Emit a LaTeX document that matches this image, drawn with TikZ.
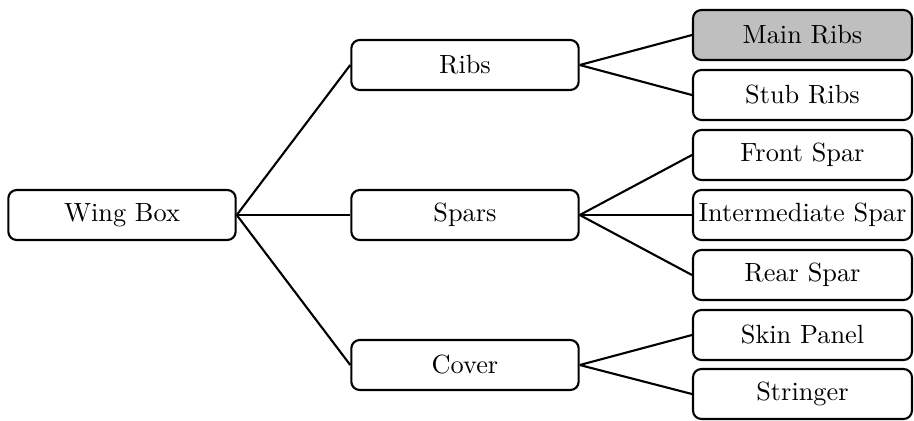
\documentclass[tikz,border=0pt]{standalone}
\begin{document}
\begin{tikzpicture}[x=0.38pt,y=-0.38pt,
  box/.style={draw,thick,rounded corners=3.2pt,minimum height=19pt,inner sep=1pt,font=\normalsize},
  midbox/.style={box,minimum width=86.4pt},
  leafbox/.style={box,minimum width=83.2pt},
  link/.style={thick}]
\useasboundingbox (0,0) rectangle (914,420);
% root
\node[midbox] (wing) at (122,215) {Wing Box};
% second level
\node[midbox] (ribs)  at (465,65)  {Ribs};
\node[midbox] (spars) at (465,215) {Spars};
\node[midbox] (cover) at (465,365) {Cover};
% leaves
\node[leafbox,fill=black!25] (mainribs) at (802.5,35) {Main Ribs};
\node[leafbox] (stubribs) at (802.5,95)  {Stub Ribs};
\node[leafbox] (front)    at (802.5,155) {Front Spar};
\node[leafbox] (inter)    at (802.5,215) {Intermediate Spar};
\node[leafbox] (rear)     at (802.5,275) {Rear Spar};
\node[leafbox] (skin)     at (802.5,335) {Skin Panel};
\node[leafbox] (stringer) at (802.5,394) {Stringer};
% connectors
\foreach \c in {ribs,spars,cover} \draw[link] (wing.east) -- (\c.west);
\foreach \c in {mainribs,stubribs} \draw[link] (ribs.east) -- (\c.west);
\foreach \c in {front,inter,rear} \draw[link] (spars.east) -- (\c.west);
\foreach \c in {skin,stringer} \draw[link] (cover.east) -- (\c.west);
\end{tikzpicture}
\end{document}
